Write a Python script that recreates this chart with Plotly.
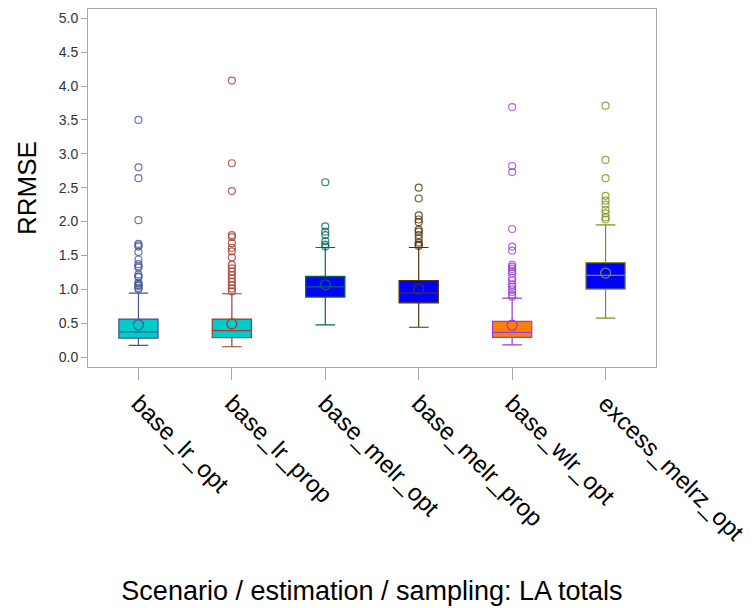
import plotly.graph_objects as go

categories = ["base_lr_opt", "base_lr_prop", "base_melr_opt", "base_melr_prop", "base_wlr_opt", "excess_melrz_opt"]
q1 = [0.28, 0.285, 0.885, 0.80, 0.29, 1.003]
median = [0.37, 0.39, 1.037, 0.944, 0.363, 1.204]
q3 = [0.56, 0.56, 1.19, 1.13, 0.525, 1.395]
lower_whisker = [0.171, 0.152, 0.476, 0.44, 0.18, 0.575]
upper_whisker = [0.944, 0.934, 1.617, 1.617, 0.87, 1.95]
means = [0.476, 0.49, 1.066, 1.007, 0.47, 1.239]
outliers = [
    [3.50, 2.80, 2.64, 2.02, 1.67, 1.65, 1.63, 1.55, 1.44, 1.37, 1.34, 1.32, 1.22, 1.19, 1.18, 1.10, 1.08, 1.06, 1.05, 1.02, 1.00],
    [4.08, 2.86, 2.45, 1.80, 1.77, 1.68, 1.61, 1.56, 1.47, 1.36, 1.31, 1.26, 1.21, 1.16, 1.11, 1.06, 1.01, 0.97],
    [2.58, 1.93, 1.85, 1.80, 1.71, 1.66, 1.63],
    [2.50, 2.34, 2.09, 2.03, 1.99, 1.88, 1.85, 1.80, 1.75, 1.69, 1.66, 1.64],
    [3.69, 2.82, 2.73, 1.89, 1.63, 1.57, 1.36, 1.33, 1.30, 1.27, 1.24, 1.17, 1.13, 1.07, 1.04, 1.00, 0.96, 0.92, 0.89],
    [3.71, 2.91, 2.64, 2.38, 2.31, 2.25, 2.17, 2.12, 2.06, 2.03],
]
fill_colors = ["#00CCCC", "#00CCCC", "#0000FF", "#0000FF", "#FF7F00", "#0000FF"]
line_colors = ["#445694", "#A23A2E", "#01665E", "#543005", "#9D3CDB", "#7F8E1F"]
y_ticks = [0.0, 0.5, 1.0, 1.5, 2.0, 2.5, 3.0, 3.5, 4.0, 4.5, 5.0]

FONT = "Liberation Sans, Arial, sans-serif"

fig = go.Figure()
for i, cat in enumerate(categories):
    fig.add_trace(go.Box(
        x=[cat], q1=[q1[i]], median=[median[i]], q3=[q3[i]],
        lowerfence=[lower_whisker[i]], upperfence=[upper_whisker[i]],
        fillcolor=fill_colors[i], line=dict(color=line_colors[i], width=1.2),
        width=0.42, whiskerwidth=0.5, boxpoints=False, showlegend=False,
        hoverinfo="skip",
    ))
    fig.add_trace(go.Scatter(
        x=[cat] * len(outliers[i]), y=outliers[i], mode="markers",
        marker=dict(symbol="circle-open", size=7, color=line_colors[i],
                    opacity=0.8, line=dict(width=1.2, color=line_colors[i])),
        showlegend=False,
    ))
    fig.add_trace(go.Scatter(
        x=[cat], y=[means[i]], mode="markers",
        marker=dict(symbol="circle-open", size=10, color=line_colors[i],
                    line=dict(width=1.2, color=line_colors[i])),
        showlegend=False,
    ))

fig.update_layout(
    width=752, height=608,
    margin=dict(l=88, r=96, t=9, b=241, autoexpand=False),
    paper_bgcolor="white", plot_bgcolor="white",
    boxmode="overlay",
    font=dict(family=FONT, color="#000000"),
    xaxis=dict(
        type="category", categoryorder="array", categoryarray=categories,
        range=[-0.54, 5.54], automargin=False,
        showline=True, linecolor="#A8A8A8", linewidth=1, mirror=True,
        ticks="outside", ticklen=12, tickcolor="#A8A8A8",
        tickangle=45, tickfont=dict(size=24, family=FONT, color="#000000"),
        showgrid=False, zeroline=False,
        title=dict(text="Scenario / estimation / sampling: LA totals",
                   font=dict(size=27, family=FONT, color="#000000"), standoff=36),
    ),
    yaxis=dict(
        range=[-0.147, 5.137], automargin=False,
        tickvals=y_ticks, ticktext=[f"{v:.1f}" for v in y_ticks],
        showline=True, linecolor="#A8A8A8", linewidth=1, mirror=True,
        ticks="outside", ticklen=6, tickcolor="#A8A8A8",
        tickfont=dict(size=14, family=FONT, color="#333333"),
        showgrid=False, zeroline=False,
        title=dict(text="RRMSE", font=dict(size=26, family=FONT, color="#000000"), standoff=14),
    ),
)

fig.write_html("out.html")
